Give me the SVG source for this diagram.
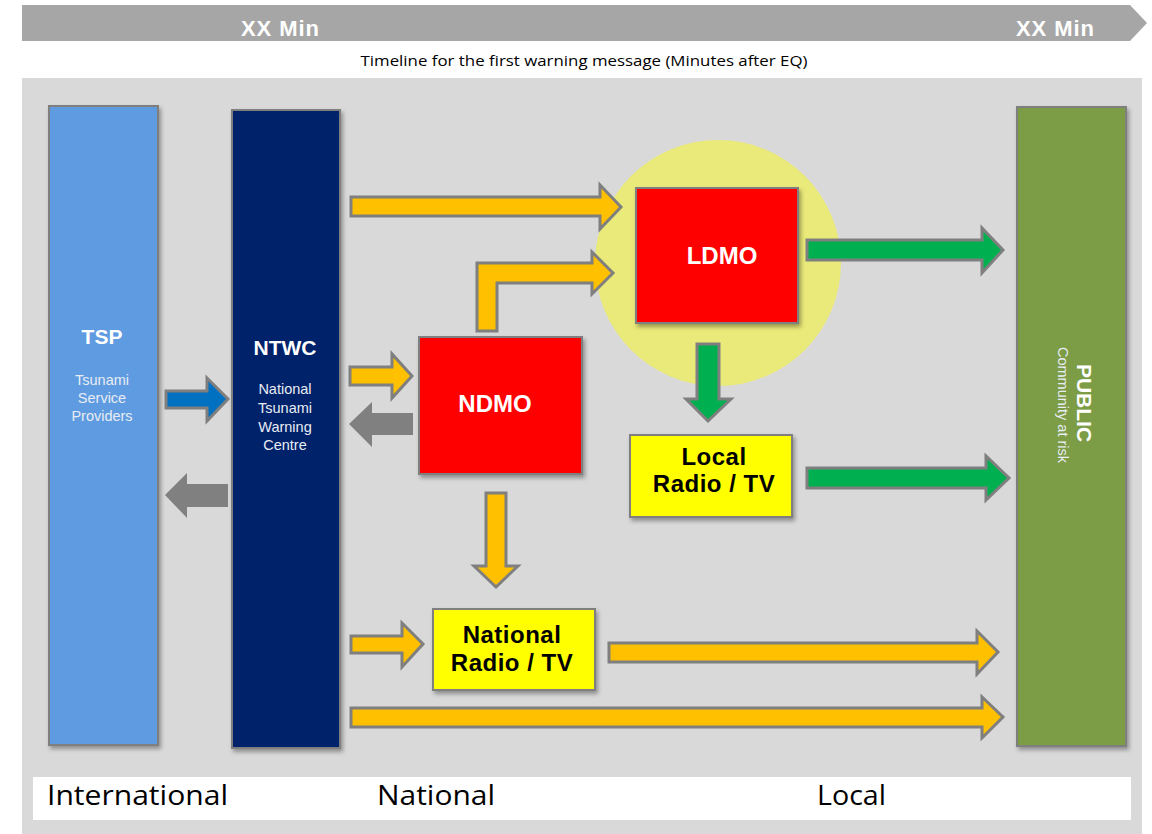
<svg xmlns="http://www.w3.org/2000/svg" width="1152" height="834" viewBox="0 0 1152 834">
<style>
.box{stroke:#7f7f7f;stroke-width:2;filter:url(#sh)}
.ay{fill:#ffc000;stroke:#7f7f7f;stroke-width:3;stroke-linejoin:miter}
.ag{fill:#00b050;stroke:#7f7f7f;stroke-width:3}
.ab{fill:#0070c0;stroke:#7f7f7f;stroke-width:3}
.agr{fill:#808080}
.wb{font-family:"Liberation Sans",Arial,sans-serif;font-weight:bold;fill:#ffffff;text-anchor:middle}
.wr{font-family:"Liberation Sans",Arial,sans-serif;fill:#e8ecf4;text-anchor:middle;font-size:14.5px}
.kb{font-family:"Liberation Sans",Arial,sans-serif;font-weight:bold;fill:#000000;text-anchor:middle;font-size:24px;letter-spacing:0.5px}
.lab{font-family:"Open Sans","Liberation Sans",sans-serif;fill:#000000;font-size:28px}
</style>
<defs>
<filter id="sh" x="-20%" y="-20%" width="140%" height="140%">
<feDropShadow dx="2" dy="3" stdDeviation="2" flood-color="#000" flood-opacity="0.35"/>
</filter>
</defs>
<rect x="0" y="0" width="1152" height="834" fill="#ffffff"/>
<g id="timeline">
<polygon points="22,5 1130,5 1147,23 1130,41 22,41" fill="#a6a6a6"/>
<text x="280" y="36" class="wb" font-size="22" fill="#f2f2f2" textLength="78">XX Min</text>
<text x="1055" y="36" class="wb" font-size="22" fill="#f2f2f2" textLength="78">XX Min</text>
<text x="584" y="66" font-family="Open Sans, Liberation Sans, sans-serif" font-size="14" text-anchor="middle" fill="#000" textLength="447" lengthAdjust="spacingAndGlyphs">Timeline for the first warning message  (Minutes after EQ)</text>
</g>
<rect x="22" y="78" width="1120" height="756" fill="#d9d9d9"/>
<g id="scale-labels">
<rect x="33" y="777" width="1098" height="43" fill="#ffffff"/>
<text x="47" y="805" class="lab" textLength="181" lengthAdjust="spacingAndGlyphs">International</text>
<text x="377" y="805" class="lab" textLength="118" lengthAdjust="spacingAndGlyphs">National</text>
<text x="817" y="805" class="lab" textLength="69" lengthAdjust="spacingAndGlyphs">Local</text>
</g>
<g id="ldmo-zone">
<circle cx="718" cy="263" r="123" fill="#eaea7a"/>
</g>
<g id="tsp">
<rect x="49" y="106" width="109" height="639" fill="#5e9be0" class="box"/>
<text x="102" y="344" class="wb" font-size="21">TSP</text>
<text x="102" y="385" class="wr">Tsunami</text>
<text x="102" y="403" class="wr">Service</text>
<text x="102" y="421" class="wr">Providers</text>
</g>
<g id="ntwc">
<rect x="232" y="110" width="108" height="638" fill="#04246a" class="box"/>
<text x="285" y="355" class="wb" font-size="21">NTWC</text>
<text x="285" y="394" class="wr">National</text>
<text x="285" y="413" class="wr">Tsunami</text>
<text x="285" y="432" class="wr">Warning</text>
<text x="285" y="450" class="wr">Centre</text>
</g>
<g id="public">
<rect x="1017" y="107" width="109" height="639" fill="#7c9c44" class="box"/>
<text transform="translate(1077,403) rotate(90)" class="wb" font-size="21">PUBLIC</text>
<text transform="translate(1058,405) rotate(90)" class="wr" font-size="14.5">Community  at risk</text>
</g>
<g id="ldmo">
<rect x="636" y="188" width="162" height="135" fill="#ff0000" class="box"/>
<text x="722" y="264" class="wb" font-size="24">LDMO</text>
</g>
<g id="ndmo">
<rect x="419" y="337" width="163" height="137" fill="#ff0000" class="box"/>
<text x="495" y="412" class="wb" font-size="24">NDMO</text>
</g>
<g id="local-radio">
<rect x="630" y="435" width="162" height="82" fill="#ffff00" class="box"/>
<text x="714" y="465" class="kb">Local</text>
<text x="714" y="492" class="kb">Radio / TV</text>
</g>
<g id="national-radio">
<rect x="433" y="609" width="162" height="81" fill="#ffff00" class="box"/>
<text x="512" y="643" class="kb">National</text>
<text x="512" y="671" class="kb">Radio / TV</text>
</g>
<g id="connectors">
<polygon class="ay" points="351,197 600,197 600,185 621,207 600,229 600,216 351,216"/>
<polygon class="ay" points="477,331 477,263 592,263 592,252 613,273 592,294 592,283 497,283 497,331"/>
<polygon class="ag" points="807,240 982,240 982,228 1003,250 982,273 982,260 807,260"/>
<polygon class="ay" points="350,367 392,367 392,354 412,376 392,398 392,385 350,385"/>
<polygon class="agr" points="413,413 372,413 372,402 349,424 372,447 372,435 413,435"/>
<polygon class="ab" points="166,391 207,391 207,378 228,399 207,421 207,408 166,408"/>
<polygon class="agr" points="228,484 187,484 187,473 165,495 187,518 187,507 228,507"/>
<polygon class="ag" points="697,344 719,344 719,399 731,399 708,421 686,399 697,399"/>
<polygon class="ag" points="807,468 986,468 986,456 1009,478 986,500 986,488 807,488"/>
<polygon class="ay" points="486,493 506,493 506,566 518,566 496,587 474,566 486,566"/>
<polygon class="ay" points="351,636 402,636 402,623 423,644 402,667 402,653 351,653"/>
<polygon class="ay" points="609,643 977,643 977,631 998,652 977,674 977,662 609,662"/>
<polygon class="ay" points="351,708 982,708 982,697 1003,717 982,738 982,727 351,727"/>
</g>
</svg>
